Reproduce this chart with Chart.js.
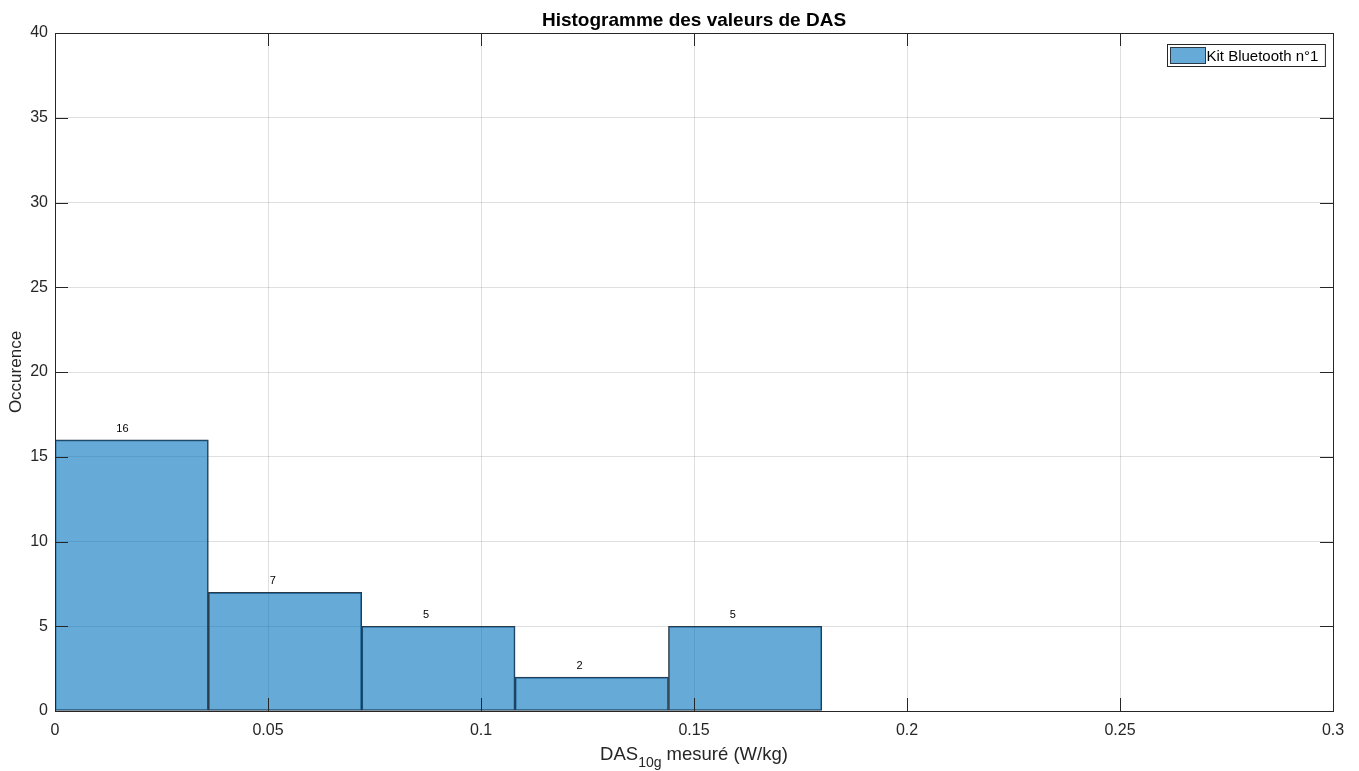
<!DOCTYPE html>
<html>
<head>
<meta charset="utf-8">
<script src="https://cdn.jsdelivr.net/npm/chart.js@4/dist/chart.umd.min.js"></script>
<style>
  html, body { margin: 0; padding: 0; background: #fff; }
  #wrap { width: 1359px; height: 771px; }
</style>
</head>
<body>
<div id="wrap"><canvas id="myChart" width="1359" height="771"></canvas></div>
<script>
//--------------------- Data ---------------------
const binEdges = [0, 0.036, 0.072, 0.108, 0.144, 0.18];
const counts = [16, 7, 5, 2, 5];
const seriesName = "Kit Bluetooth n°1";
const xTicks = [0, 0.05, 0.1, 0.15, 0.2, 0.25, 0.3];
const yTicks = [0, 5, 10, 15, 20, 25, 30, 35, 40];

const FONT = "'Liberation Sans', Arial, Helvetica, sans-serif";
const TXT = "#262626";
const barFill = "rgba(0, 114, 189, 0.6)";
const barEdge = "#2a3a48";

// bin centres from edges
const points = counts.map((c, i) => ({ x: (binEdges[i] + binEdges[i + 1]) / 2, y: c }));

// Draws the MATLAB-like box, inward ticks, labels and legend
const decorations = {
  id: "decorations",
  afterDraw(chart) {
    const { ctx, chartArea: a, scales } = chart;
    const xs = scales.x, ys = scales.y;
    ctx.save();

    // box
    ctx.strokeStyle = TXT;
    ctx.lineWidth = 1;
    ctx.strokeRect(Math.round(a.left) + 0.5, Math.round(a.top) + 0.5, Math.round(a.right - a.left), Math.round(a.bottom - a.top));

    // inward ticks
    const tl = 13;
    ctx.beginPath();
    xTicks.forEach((v) => {
      const px = Math.round(xs.getPixelForValue(v)) + 0.5;
      ctx.moveTo(px, a.bottom); ctx.lineTo(px, a.bottom - tl);
      ctx.moveTo(px, a.top); ctx.lineTo(px, a.top + tl);
    });
    yTicks.forEach((v) => {
      const py = Math.round(ys.getPixelForValue(v)) + 0.5;
      ctx.moveTo(a.left, py); ctx.lineTo(a.left + tl, py);
      ctx.moveTo(a.right, py); ctx.lineTo(a.right - tl, py);
    });
    ctx.stroke();

    // values above bars, left-aligned a little before the bin centre
    ctx.fillStyle = "#000";
    ctx.font = "11px " + FONT;
    ctx.textAlign = "left";
    ctx.textBaseline = "alphabetic";
    points.forEach((p, i) => {
      const w = binEdges[i + 1] - binEdges[i];
      ctx.fillText(String(counts[i]), xs.getPixelForValue(p.x - 0.1 * w), ys.getPixelForValue(p.y) - 8);
    });

    // title
    const cx = (a.left + a.right) / 2;
    ctx.textAlign = "center";
    ctx.fillStyle = "#000";
    ctx.font = "bold 19px " + FONT;
    ctx.fillText("Histogramme des valeurs de DAS", cx, 26);

    // y axis label
    ctx.fillStyle = TXT;
    ctx.save();
    ctx.translate(21, (a.top + a.bottom) / 2);
    ctx.rotate(-Math.PI / 2);
    ctx.font = "17px " + FONT;
    ctx.textAlign = "center";
    ctx.fillText("Occurence", 0, 0);
    ctx.restore();

    // x axis label with subscript
    const big = "18.5px " + FONT, small = "14px " + FONT;
    const p1 = "DAS", p2 = "10g", p3 = " mesuré (W/kg)";
    ctx.font = big; const w1 = ctx.measureText(p1).width, w3 = ctx.measureText(p3).width;
    ctx.font = small; const w2 = ctx.measureText(p2).width;
    let x0 = cx - (w1 + w2 + w3) / 2;
    const base = 760;
    ctx.textAlign = "left";
    ctx.font = big; ctx.fillText(p1, x0, base);
    ctx.font = small; ctx.fillText(p2, x0 + w1, base + 7);
    ctx.font = big; ctx.fillText(p3, x0 + w1 + w2, base);

    // legend
    ctx.font = "15px " + FONT;
    const tw = ctx.measureText(seriesName).width;
    const lw = tw + 46, lh = 22;
    const lx = Math.round(a.right - 8 - lw) + 0.5, ly = Math.round(a.top + 11) + 0.5;
    ctx.fillStyle = "#fff";
    ctx.fillRect(lx, ly, lw, lh);
    ctx.strokeStyle = TXT;
    ctx.strokeRect(lx, ly, lw, lh);
    ctx.fillStyle = "#66aad7";
    ctx.fillRect(lx + 3, ly + 3, 35, 16);
    ctx.strokeStyle = barEdge;
    ctx.strokeRect(lx + 3, ly + 3, 35, 16);
    ctx.fillStyle = "#000";
    ctx.textBaseline = "middle";
    ctx.fillText(seriesName, lx + 39, ly + lh / 2 + 1);

    ctx.restore();
  },
};

const ctx = document.getElementById("myChart").getContext("2d");
const myChart = new Chart(ctx, {
  type: "bar",
  data: {
    datasets: [
      {
        label: seriesName,
        data: points,
        backgroundColor: barFill,
        borderColor: barEdge,
        borderWidth: 1,
        borderSkipped: false,
        barPercentage: 1,
        categoryPercentage: 1,
      },
    ],
  },
  options: {
    responsive: false,
    animation: false,
    layout: { padding: { top: 33, right: 26, left: 0, bottom: 0 } },
    plugins: {
      legend: { display: false },
      title: { display: false },
      tooltip: { enabled: false },
    },
    scales: {
      x: {
        type: "linear",
        min: 0,
        max: 0.3,
        offset: false,
        afterFit: (s) => { s.height = 60; },
        afterBuildTicks: (s) => { s.ticks = xTicks.map((v) => ({ value: v })); },
        ticks: {
          padding: 10,
          color: TXT,
          font: { family: FONT, size: 16 },
          callback: (v) => String(Number(v.toFixed(2))),
        },
        grid: { color: "rgba(38,38,38,0.15)", drawTicks: false, offset: false },
        border: { display: false },
      },
      y: {
        min: 0,
        max: 40,
        afterFit: (s) => { s.width = 55; },
        afterBuildTicks: (s) => { s.ticks = yTicks.map((v) => ({ value: v })); },
        ticks: {
          padding: 7,
          color: TXT,
          font: { family: FONT, size: 16 },
        },
        grid: { color: "rgba(38,38,38,0.15)", drawTicks: false },
        border: { display: false },
      },
    },
  },
  plugins: [decorations],
});
</script>
</body>
</html>
